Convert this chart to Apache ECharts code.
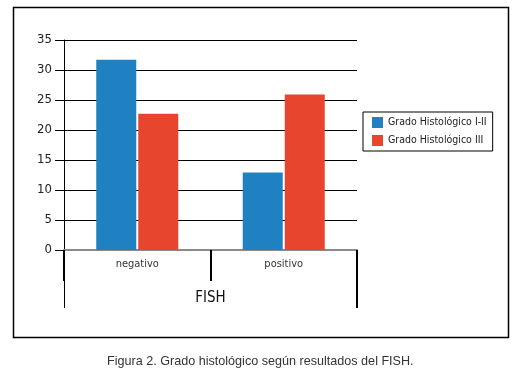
<!DOCTYPE html>
<html>
<head>
<meta charset="utf-8">
<script src="https://cdn.jsdelivr.net/npm/echarts@6/dist/echarts.min.js"></script>
<style>
html,body{margin:0;padding:0;background:#fff;}
#chart{width:528px;height:380px;}
</style>
</head>
<body>
<div id="chart"></div>
<script>
// Data
var categories = ['negativo', 'positivo'];
var seriesNames = ['Grado Histológico I-II', 'Grado Histológico III'];
var gradoI_II = [31.7, 12.9];
var gradoIII = [22.7, 25.9];
var yTicks = [0, 5, 10, 15, 20, 25, 30, 35];
var xAxisTitle = 'FISH';
var caption = 'Figura 2. Grado histológico según resultados del FISH.';

var narrow = "'Liberation Sans Narrow', 'DejaVu Sans Condensed', 'Roboto Condensed', Roboto, sans-serif";
var gridLeft = 64, gridRight = 171, gridTop = 40, gridBottom = 130;
var W = 528, H = 380;
var xRight = W - gridRight, yZero = H - gridBottom;

var chart = echarts.init(document.getElementById('chart'), null, {renderer: 'canvas'});
chart.setOption({
  backgroundColor: '#fff',
  animation: false,
  grid: {left: gridLeft, right: gridRight, top: gridTop, bottom: gridBottom, containLabel: false},
  legend: {
    orient: 'vertical',
    left: 363, top: 112,
    padding: [5, 6, 5, 9],
    itemGap: 7,
    itemWidth: 11, itemHeight: 11,
    icon: 'rect',
    borderColor: '#000', borderWidth: 1,
    backgroundColor: '#fff',
    textStyle: {fontFamily: narrow, fontSize: 10.5, color: '#222'},
    data: seriesNames
  },
  xAxis: {
    type: 'category',
    data: categories,
    boundaryGap: true,
    axisLine: {show: true, lineStyle: {color: '#8a8a8a', width: 2}},
    axisTick: {show: true, alignWithLabel: false, length: 31, lineStyle: {color: '#000', width: 2}},
    axisLabel: {margin: 9, fontFamily: narrow, fontSize: 11, color: '#333'},
    splitLine: {show: false},
    name: xAxisTitle,
    nameLocation: 'middle',
    nameGap: 41,
    nameTextStyle: {fontFamily: narrow, fontSize: 15, color: '#111'}
  },
  yAxis: {
    type: 'value',
    min: yTicks[0], max: yTicks[yTicks.length - 1], interval: yTicks[1] - yTicks[0],
    axisLine: {show: true, lineStyle: {color: '#000', width: 1}},
    axisTick: {show: true, length: 9, lineStyle: {color: '#000', width: 1}},
    axisLabel: {margin: 12, fontFamily: narrow, fontSize: 13, color: '#222'},
    splitLine: {show: true, lineStyle: {color: '#000', width: 1}}
  },
  series: [
    {name: seriesNames[0], type: 'bar', data: gradoI_II, barWidth: 40, barGap: '5%', itemStyle: {color: '#1f80c2'}},
    {name: seriesNames[1], type: 'bar', data: gradoIII, barWidth: 40, barGap: '5%', itemStyle: {color: '#e8452f'}}
  ],
  graphic: [
    {type: 'rect', shape: {x: 13.5, y: 7.5, width: 495, height: 330}, style: {fill: null, stroke: '#000', lineWidth: 1.5}, silent: true, z: -1},
    {type: 'line', shape: {x1: gridLeft + 0.5, y1: yZero, x2: gridLeft + 0.5, y2: 308}, style: {stroke: '#000', lineWidth: 1}, silent: true},
    {type: 'line', shape: {x1: xRight, y1: yZero, x2: xRight, y2: 308}, style: {stroke: '#000', lineWidth: 2}, silent: true},
    {type: 'text', left: 107, top: 355, style: {text: caption, fontFamily: "'Liberation Sans', Arial, sans-serif", fontSize: 12.6, fill: '#333'}, silent: true}
  ]
});
</script>
</body>
</html>
